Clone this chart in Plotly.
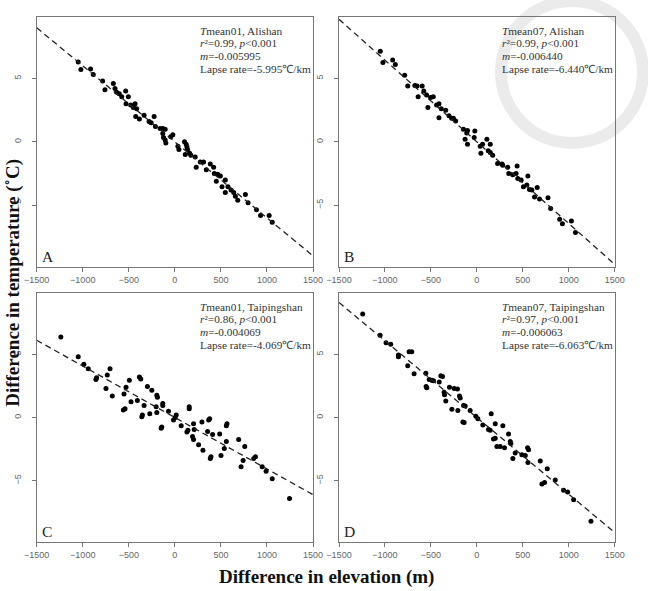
import plotly.graph_objects as go

# ---------------- data ----------------
a_elev = [-1049, -1020, -915, -886, -784, -759, -668, -650, -632, -603, -577, -534, -505, -530, -479, -450,
          -432, -414, -425, -385, -334, -280, -258, -225, -211, -160, -131, -105, -131, -123, -105, -98,
          -44, -22, 33, 44, 105, 123, 131, 138, 113, 160, 174, 221, 232, 276, 312, 341, 385, 421, 428,
          465, 494, 450, 512, 548, 548, 577, 610, 639, 657, 683, 766, 795, 886, 930, 1024, 1057]
a_temp = [6.3, 5.7, 5.75, 5.3, 4.8, 4.1, 4.6, 4.2, 3.9, 3.8, 3.55, 4.0, 3.55, 3.0, 2.9, 2.7,
          3.0, 2.6, 2.0, 1.8, 2.1, 1.6, 1.5, 2.0, 1.2, 1.05, 1.05, 1.0, 0.65, 0.35, 0.15, -0.1,
          0.4, 0.55, -0.35, -0.6, 0.0, -0.2, -0.4, -0.6, -1.0, -0.9, -1.05, -1.2, -2.0, -1.6, -1.6, -2.2, -1.75, -2.0, -2.5,
          -2.55, -2.7, -3.1, -3.55, -3.0, -4.0, -3.55, -3.8, -4.0, -4.3, -4.6, -4.15, -4.8, -5.35, -5.8, -5.8, -6.35]

b_elev = [-1051, -1022, -916, -887, -785, -752, -675, -650, -595, -639, -577, -547, -533, -504, -474, -438,
          -412, -412, -387, -339, -303, -274, -230, -255, -146, -110, -102, -128, -102, -29, -22, 36, 62,
          44, 109, 124, 146, 146, 172, 226, 281, 274, 336, 347, 391, 427, 438, 445, 482, 507, 544, 555,
          573, 599, 628, 657, 682, 774, 803, 901, 931, 1029, 1073]
b_temp = [7.15, 6.25, 6.45, 6.1, 5.25, 4.4, 4.45, 4.4, 4.4, 3.55, 4.0, 3.7, 2.7, 3.5, 3.55, 2.9,
          3.0, 1.9, 2.6, 2.5, 2.05, 1.85, 1.65, 1.85, 1.0, 0.7, 0.9, 0.2, -0.2, 0.35, 0.85, -0.35, -0.2,
          -0.9, 0.2, -0.7, -0.2, -0.85, -1.05, -1.7, -1.85, -1.75, -2.0, -2.5, -2.6, -2.5, -1.9, -2.9, -3.0, -3.55, -3.4, -2.7,
          -3.75, -3.8, -4.35, -3.6, -4.5, -4.4, -5.25, -6.1, -6.45, -6.25, -7.15]

c_elev = [-1238, -1049, -988, -940, -850, -857, -734, -704, -748, -679, -530, -494, -552, -476, -559, -541,
          -407, -385, -370, -334, -352, -359, -298, -272, -250, -196, -189, -203, -196, -131, -131, -142,
          -149, -69, -15, 15, 4, 69, 131, 142, 156, 156, 203, 210, 192, 203, 258, 305, 294, 356, 367, 378,
          385, 392, 410, 487, 501, 537, 559, 559, 566, 693, 719, 741, 759, 857, 875, 948, 991, 1057, 1245]
c_temp = [6.37, 4.8, 4.2, 3.85, 3.15, 3.0, 3.35, 3.85, 2.3, 1.7, 2.4, 2.95, 1.85, 1.25, 0.6, 0.7,
          1.35, 3.2, 3.05, 0.95, 0.2, 0.05, 2.45, 0.3, 2.15, 1.75, 1.6, 0.85, 0.4, 1.1, 0.95, -0.75,
          -0.85, 0.5, -0.2, 0.2, 0.0, -0.65, -1.15, -1.0, 0.7, 0.85, -0.5, -0.95, -1.5, -1.75, -2.15, -2.6, -0.35, -1.1, -0.2, -0.1,
          -3.25, -3.1, -1.35, -1.3, -3.0, -2.45, -1.9, -0.65, -0.5, -1.75, -3.9, -3.4, -2.3, -3.25, -3.1, -3.9, -4.25, -4.85, -6.4]

d_elev = [-1242, -1053, -988, -937, -853, -853, -737, -708, -752, -683, -555, -552, -545, -519, -490, -472,
          -410, -392, -374, -356, -352, -338, -298, -272, -247, -211, -189, -181, -207, -145, -127, -152,
          -138, -73, -11, 11, 65, 127, 145, 156, 200, 181, 200, 218, 254, 283, 301, 345, 363, 370, 392,
          417, 490, 527, 552, 563, 556, 690, 766, 708, 737, 853, 944, 988, 1053, 1242]
d_temp = [8.18, 6.5, 5.9, 5.8, 4.95, 4.8, 5.2, 5.2, 4.1, 3.45, 3.5, 2.45, 2.35, 3.0, 2.95, 2.9,
          2.8, 3.3, 3.25, 2.0, 1.8, 1.3, 2.4, 0.65, 2.3, 2.25, 1.7, 1.55, 0.55, 0.95, 0.9, -0.35,
          -0.4, 0.55, 0.1, -0.1, -0.6, -0.95, -1.0, 0.3, -0.5, -1.7, -1.65, -2.3, -2.3, -0.65, -2.4, -1.3, -1.9, -2.05, -3.25,
          -2.8, -2.95, -3.0, -2.4, -2.55, -3.55, -3.45, -4.05, -5.25, -5.15, -4.95, -5.75, -5.9, -6.5, -8.2]

slopes = [-0.005995, -0.006440, -0.004069, -0.006063]
panel_letters = ["A", "B", "C", "D"]
titles = ["<i>T</i>mean01, Alishan", "<i>T</i>mean07, Alishan",
          "<i>T</i>mean01, Taipingshan", "<i>T</i>mean07, Taipingshan"]
r2_text = ["0.99", "0.99", "0.86", "0.97"]
m_text = ["-0.005995", "-0.006440", "-0.004069", "-0.006063"]
lapse_text = ["-5.995", "-6.440", "-4.069", "-6.063"]
x_ticks = [-1500, -1000, -500, 0, 500, 1000, 1500]
y_ticks = [-5, 0, 5]
x_range = [-1500, 1500]
y_range = [-9.87, 9.82]

elevs = [a_elev, b_elev, c_elev, d_elev]
temps = [a_temp, b_temp, c_temp, d_temp]

# ---------------- layout geometry ----------------
W, H = 648, 591
x_doms = [[36.7 / W, 313 / W], [339 / W, 614.7 / W]]
y_doms = [[1 - 267 / H, 1 - 17.3 / H], [1 - 542.3 / H, 1 - 293.3 / H]]

fig = go.Figure()
serif = "Liberation Serif, Times New Roman, serif"
annotations = []
for i in range(4):
    row, col = divmod(i, 2)
    n = i + 1
    xa = "x" if n == 1 else f"x{n}"
    ya = "y" if n == 1 else f"y{n}"
    fig.add_trace(go.Scatter(
        x=elevs[i], y=temps[i], mode="markers", xaxis=xa, yaxis=ya,
        marker=dict(color="black", size=5, line=dict(width=0)), showlegend=False))
    fig.add_trace(go.Scatter(
        x=x_range, y=[slopes[i] * v for v in x_range], mode="lines", xaxis=xa, yaxis=ya,
        line=dict(color="#222", width=1.3, dash="6px,4px"), showlegend=False))
    axis_common = dict(showline=True, mirror=True, linecolor="#777", linewidth=1,
                       showgrid=False, zeroline=False, ticks="outside", ticklen=4, automargin=False,
                       tickcolor="#777", tickfont=dict(family="Liberation Sans, Arial", size=9, color="#666"))
    fig.layout[f"xaxis{'' if n == 1 else n}"] = dict(
        domain=x_doms[col], range=x_range, tickvals=x_ticks, anchor=ya, **axis_common)
    fig.layout[f"yaxis{'' if n == 1 else n}"] = dict(
        domain=y_doms[row], range=y_range, tickvals=y_ticks, tickangle=-90, anchor=xa,
        ticklabelstandoff=7, **axis_common)
    lines = [titles[i],
             f"<i>r</i>²={r2_text[i]}, <i>p</i>&lt;0.001",
             f"<i>m</i>={m_text[i]}",
             f"Lapse rate={lapse_text[i]}℃/km"]
    for k, t in enumerate(lines):
        annotations.append(dict(
            text=t, xref=f"{xa} domain", yref=f"{ya} domain", x=0.586,
            y=1 - (13.5 + 12.7 * k) / 250, xanchor="left", yanchor="middle", showarrow=False,
            borderpad=0, font=dict(family=serif, size=11.3, color="#333")))
    annotations.append(dict(
        text=panel_letters[i], xref=f"{xa} domain", yref=f"{ya} domain", x=0.012, y=0.0,
        xanchor="left", yanchor="bottom", showarrow=False,
        font=dict(family=serif, size=15.5, color="#222")))

annotations.append(dict(
    text="<b>Difference in elevation (m)</b>", xref="paper", yref="paper",
    x=326 / W, y=1 - 577 / H, xanchor="center", yanchor="middle", showarrow=False,
    font=dict(family=serif, size=19, color="#111")))
annotations.append(dict(
    text="<b>Difference in temperature (˚C)</b>", xref="paper", yref="paper",
    x=12.8 / W, y=1 - 283 / H, xanchor="center", yanchor="middle", showarrow=False, textangle=-90,
    borderpad=0, font=dict(family=serif, size=19, color="#111")))

cx, cy, r = 572, 72, 71
fig.update_layout(
    width=W, height=H, margin=dict(l=0, r=0, t=0, b=0, autoexpand=False),
    paper_bgcolor="white", plot_bgcolor="white", annotations=annotations,
    shapes=[dict(type="circle", xref="paper", yref="paper", layer="below",
                 x0=(cx - r) / W, x1=(cx + r) / W, y0=1 - (cy + r) / H, y1=1 - (cy - r) / H,
                 line=dict(color="rgba(215,215,215,0.5)", width=12))])

fig.write_html("out.html")
